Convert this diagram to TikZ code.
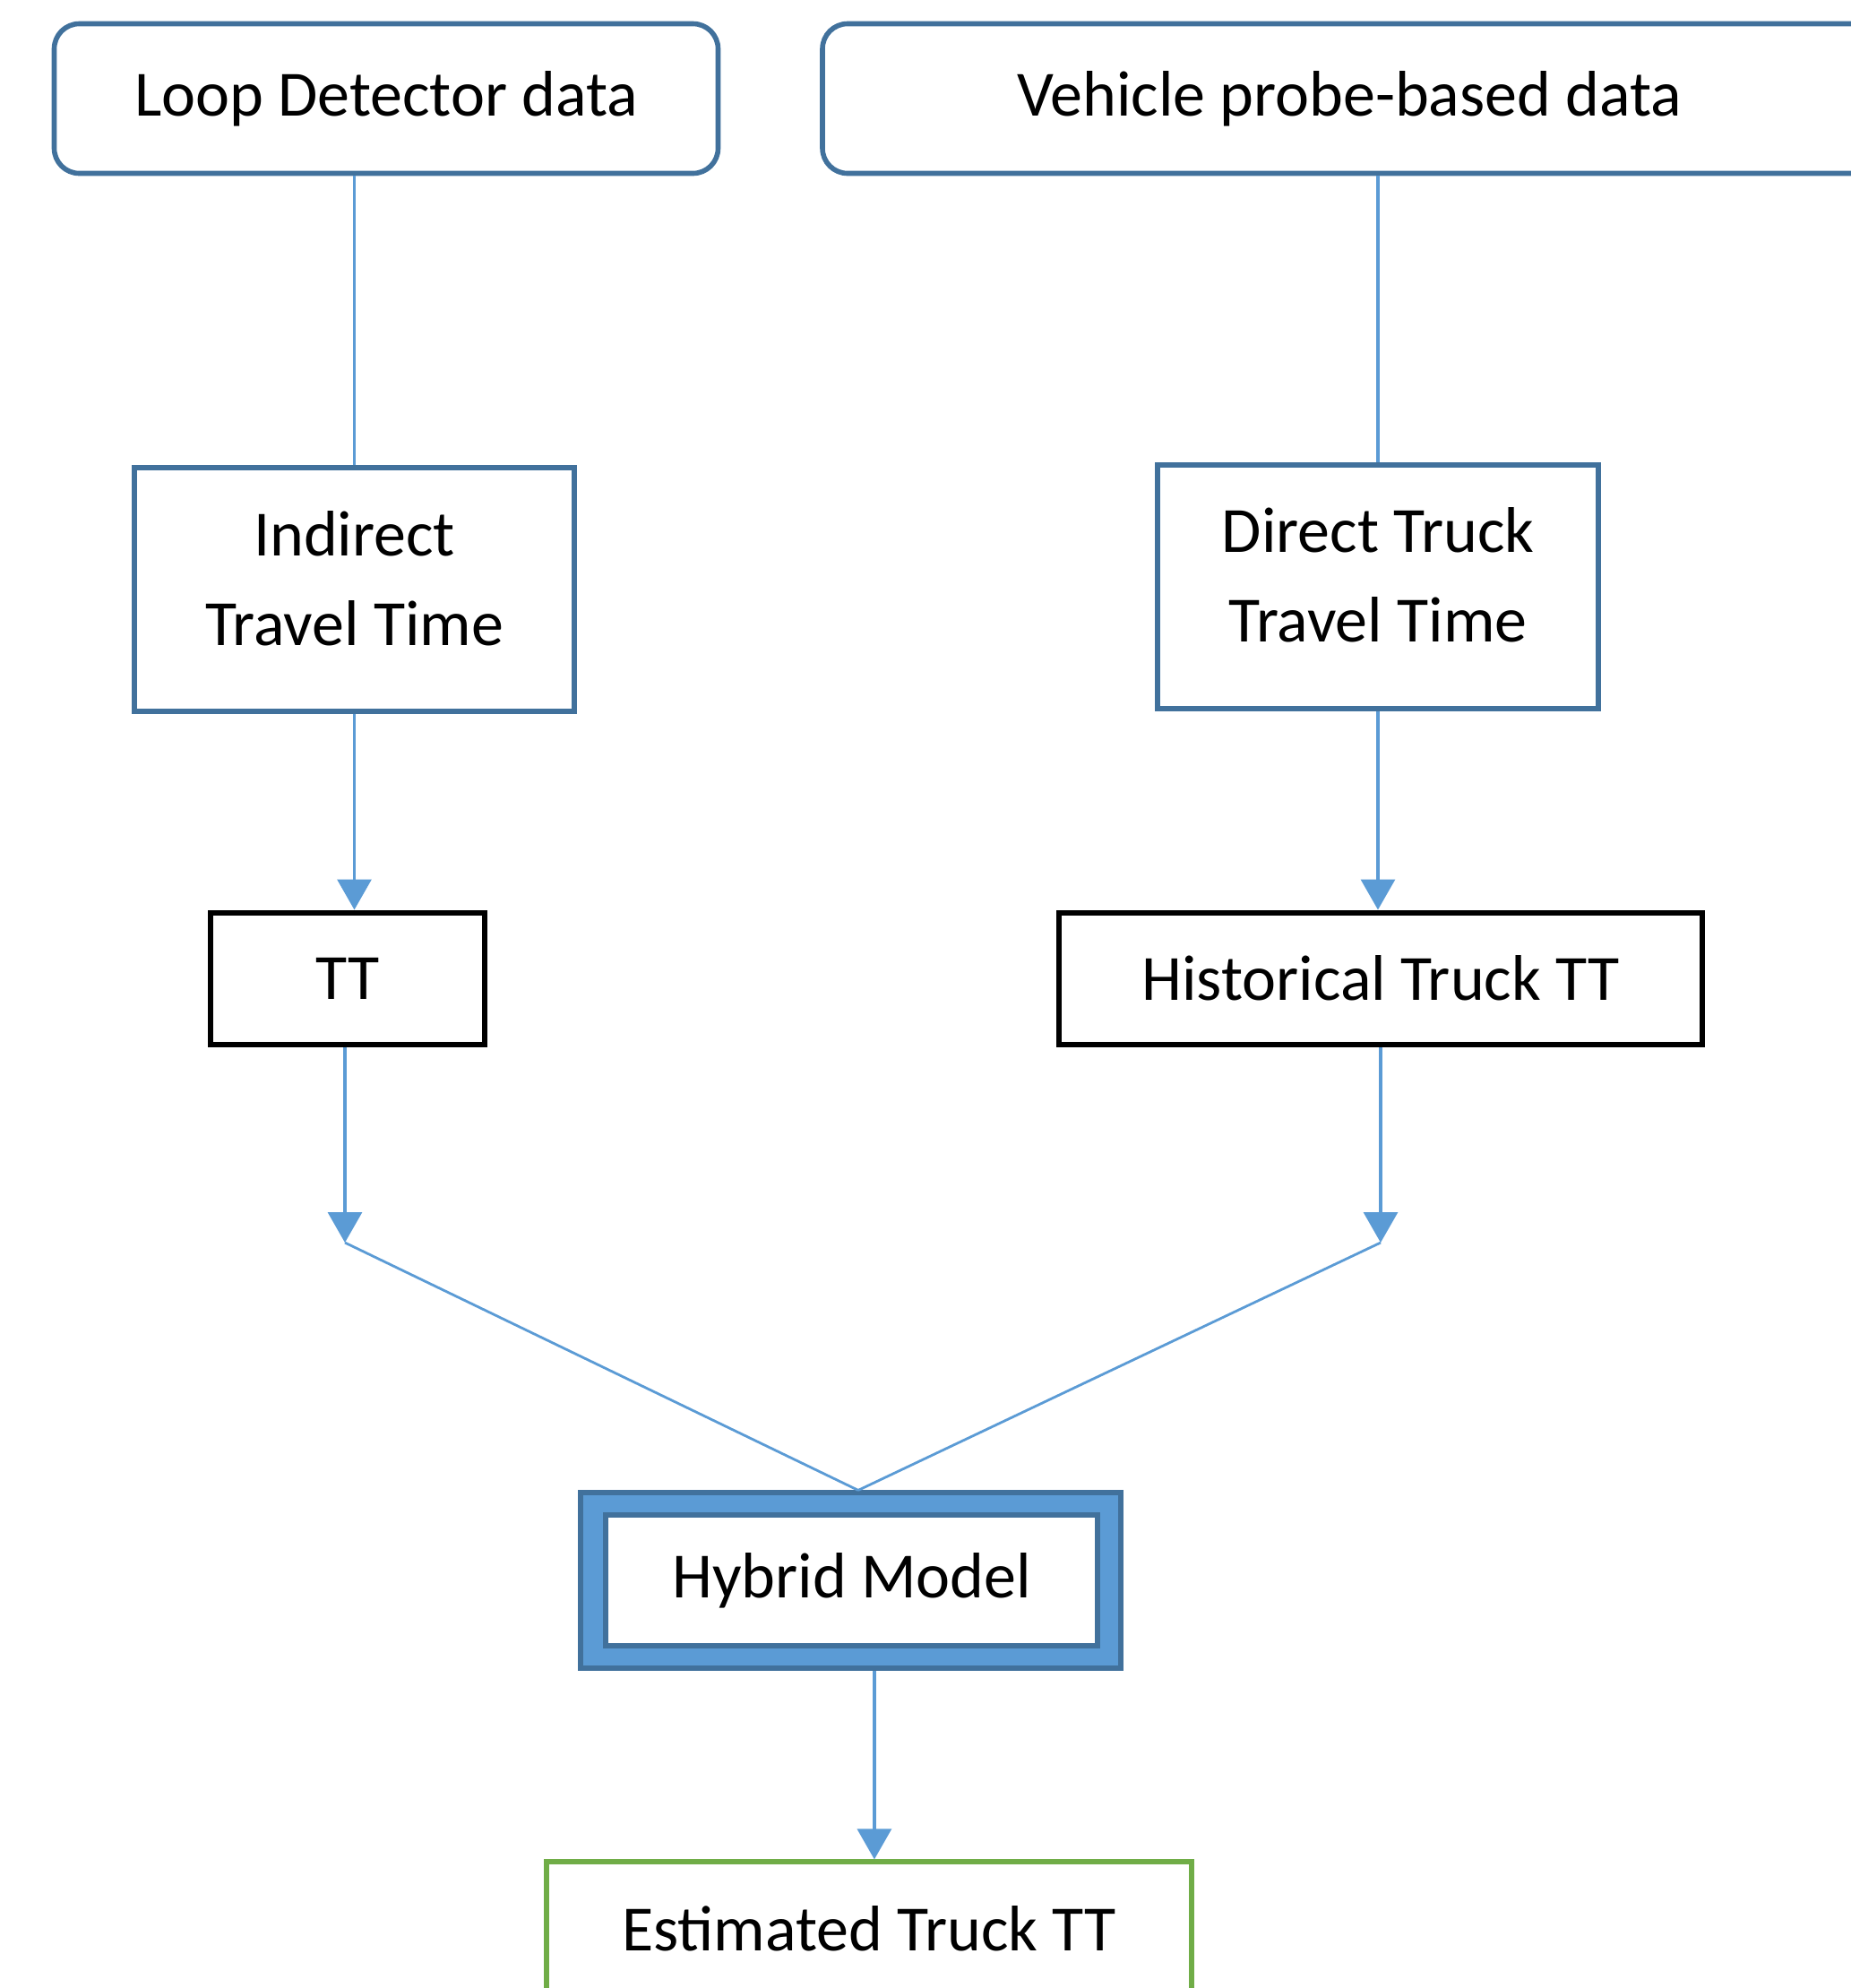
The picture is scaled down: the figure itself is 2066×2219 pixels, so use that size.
\documentclass[tikz,border=0pt]{standalone}
\usepackage{fontspec}
\setmainfont{Carlito}
\usetikzlibrary{arrows.meta}
\definecolor{boxblue}{HTML}{41719C}
\definecolor{linkblue}{HTML}{5B9BD5}
\definecolor{outgreen}{HTML}{70AD47}

\begin{document}
\begin{tikzpicture}[x=0.25pt,y=-0.25pt,
  every node/.style={font=\fontsize{18}{25}\selectfont, text=black, inner sep=0pt, align=center},
  srcbox/.style={draw=boxblue, line width=1.4pt, rounded corners=7pt, fill=white},
  procbox/.style={draw=boxblue, line width=1.4pt, fill=white},
  resbox/.style={draw=black, line width=1.5pt, fill=white},
  link/.style={draw=linkblue, line width=0.8pt},
  flow/.style={link, -{Triangle[width=9.5pt,length=8.5pt]}},
]
\useasboundingbox (0,0) rectangle (2066,2219);
\clip (0,0) rectangle (2066,2219);

% data sources
\node[srcbox, minimum width=185.25pt, minimum height=41.75pt] (loop) at (431,110) {Loop Detector data};
\node[srcbox, minimum width=294pt, minimum height=41.75pt] (probe) at (1506,110) {Vehicle probe-based data};

% travel time processing (labels sit a little above the box centre)
\node[procbox, minimum width=122.75pt, minimum height=68pt] (ind) at (395.5,658) {};
\node (indtext) at ([yshift=3pt]ind.center) {Indirect\\Travel Time};
\node[procbox, minimum width=123pt, minimum height=68pt] (dir) at (1538,655) {};
\node (dirtext) at ([yshift=3.3pt]dir.center) {Direct Truck\\Travel Time};

% intermediate results
\node[resbox, minimum width=76.5pt, minimum height=36.75pt] (tt) at (388,1092) {TT};
\node[resbox, minimum width=179.5pt, minimum height=36.75pt] (hist) at (1541,1092) {Historical Truck TT};

% hybrid model: blue frame around a white panel
\node[draw=boxblue, line width=1.3pt, fill=linkblue, minimum width=150.75pt, minimum height=49pt] (hybrid) at (949.5,1764) {};
\node[draw=boxblue, line width=1.5pt, fill=white, minimum width=137.25pt, minimum height=36.5pt] (hybin) at (950.5,1764) {Hybrid Model};

% final output
\node[draw=outgreen, line width=1.3pt, fill=white, minimum width=180pt, minimum height=37.5pt] (est) at (970,2153) {Estimated Truck TT};

% junction points
\coordinate (jl) at (385,1387);
\coordinate (jr) at (1541,1387);
\coordinate (meet) at ([xshift=2.1pt]hybrid.north);

% connectors
\draw[link] (ind.north |- loop.south) -- (ind.north);
\draw[link] (dir.north |- probe.south) -- (dir.north);
\draw[flow] (ind.south) -- (ind.south |- tt.north);
\draw[flow] (dir.south) -- (dir.south |- hist.north);
\draw[flow] (tt.south -| jl) -- (jl);
\draw[flow] (hist.south) -- (jr);
\draw[link, line width=0.7pt] (jl) -- (meet);
\draw[link, line width=0.7pt] (jr) -- (meet);
\draw[flow] ([xshift=6.6pt]hybrid.south) -- ([xshift=6.6pt]hybrid.south |- est.north);
\end{tikzpicture}
\end{document}
